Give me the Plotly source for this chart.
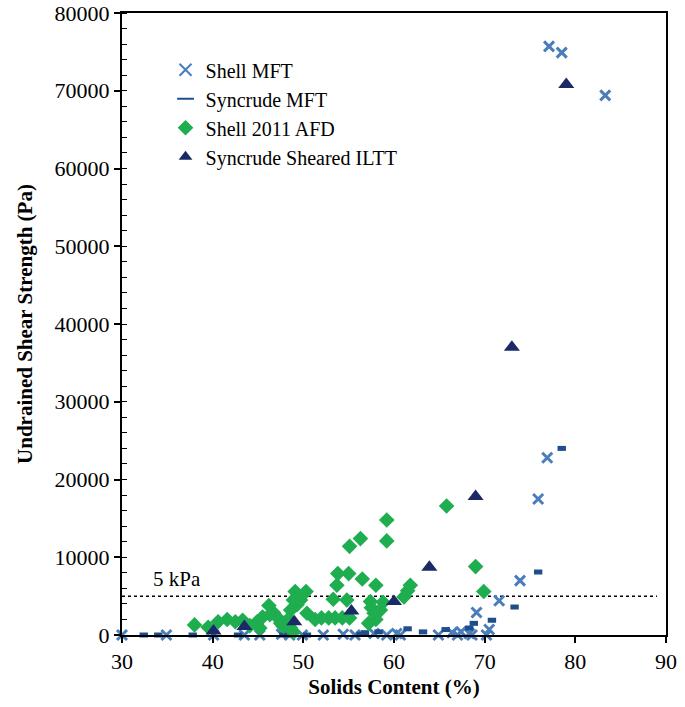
import plotly.graph_objects as go

# Shell MFT
shell_mft_x = [30.0, 34.9, 40.1, 43.5, 45.2, 47.6, 48.5, 49.9, 52.2, 54.4, 55.7, 57.8, 59.2, 60.3, 60.7,
               64.9, 66.4, 67.0, 67.4, 68.3, 68.6, 70.2, 70.5, 69.1, 71.6, 73.9, 75.9, 76.9, 77.1, 78.5, 83.3]
shell_mft_y = [0, 0, 0, 0, 0, 100, 0, 0, 0, 100, 0, 200, 0, 200, 0,
               0, 300, 0, 400, 200, 0, 0, 700, 2900, 4400, 7000, 17500, 22800, 75700, 74900, 69400]

# Syncrude MFT
syn_mft_x = [32.4, 34.0, 37.8, 42.8, 47.8, 48.8, 50.4, 56.3, 56.8, 58.3, 61.5, 63.2, 65.7, 68.3, 68.8,
             70.8, 73.3, 75.9, 78.5]
syn_mft_y = [0, 0, 0, 0, 0, 0, 0, 100, 300, 400, 800, 400, 700, 900, 1500,
             1900, 3600, 8100, 24000]

# Shell 2011 AFD
afd_x = [38.0, 39.5, 40.6, 41.6, 42.5, 43.3, 44.1, 44.9, 45.2, 45.5, 46.2, 46.3, 46.7, 47.1, 47.5,
         47.8, 48.4, 48.6, 48.6, 48.9, 48.9, 49.1, 49.3, 49.7, 50.3, 50.4, 51.3, 52.0, 52.8, 53.3,
         53.5, 53.7, 53.8, 54.3, 54.8, 55.0, 55.1, 55.1, 56.3, 56.5, 57.4, 57.5, 57.8, 58.0, 58.0,
         57.2, 58.5, 58.8, 59.2, 59.2, 61.1, 61.5, 61.8, 65.8, 69.0, 69.9]
afd_y = [1300, 1000, 1700, 2000, 1700, 1900, 1200, 1700, 900, 2300, 3800, 2600, 2900, 2300, 1500,
         1100, 2100, 3200, 900, 4500, 400, 5600, 3900, 4500, 5600, 2800, 2000, 2200, 2200, 4600,
         2200, 6400, 7900, 2200, 4500, 7900, 11400, 2200, 12400, 7200, 4300, 3500, 2800, 6400, 2000,
         1500, 3200, 4200, 14800, 12100, 4900, 5700, 6400, 16600, 8800, 5600]

# Syncrude Sheared ILTT
iltt_x = [40.1, 43.5, 49.0, 55.3, 60.0, 63.9, 69.0, 73.0, 79.0]
iltt_y = [500, 1100, 1700, 3100, 4300, 8700, 17800, 37000, 70800]

x_ticks = [30, 40, 50, 60, 70, 80, 90]
y_ticks = [0, 10000, 20000, 30000, 40000, 50000, 60000, 70000, 80000]

threshold = 5000
threshold_label = "5 kPa"

FONT = "Liberation Serif"

fig = go.Figure()
fig.add_trace(go.Scatter(x=shell_mft_x, y=shell_mft_y, mode="markers", name="Shell MFT",
                         marker=dict(symbol="x-thin", size=10, line=dict(color="#4a7ebb", width=3),
                                     color="#4a7ebb"), cliponaxis=False))
fig.add_trace(go.Scatter(x=syn_mft_x, y=syn_mft_y, mode="markers", name="Syncrude MFT",
                         marker=dict(symbol="line-ew", size=6, line=dict(color="#1f4e8c", width=5),
                                     color="#1f4e8c"), cliponaxis=False))
fig.add_trace(go.Scatter(x=afd_x, y=afd_y, mode="markers", name="Shell 2011 AFD",
                         marker=dict(symbol="diamond", size=12, color="#1fae4f"), cliponaxis=False))
fig.add_trace(go.Scatter(x=iltt_x, y=iltt_y, mode="markers", name="Syncrude Sheared ILTT",
                         marker=dict(symbol="triangle-up", size=14, color="#1b2a66"), cliponaxis=False))

fig.add_shape(type="line", x0=30, x1=89, y0=threshold, y1=threshold, xref="x", yref="y",
              line=dict(color="black", width=1.5, dash="dot"), layer="below")
fig.add_annotation(x=33.2, y=threshold, xref="x", yref="y", text=threshold_label, showarrow=False,
                   xanchor="left", yanchor="bottom", yshift=3, font=dict(family=FONT, size=21, color="black"))

fig.update_layout(
    width=685, height=707,
    margin=dict(l=122, r=19, t=13, b=72, autoexpand=False),
    paper_bgcolor="white", plot_bgcolor="white",
    font=dict(family=FONT, size=22, color="black"),
    showlegend=True,
    legend=dict(x=0.08, y=0.94, xanchor="left", yanchor="top", bgcolor="rgba(0,0,0,0)",
                font=dict(family=FONT, size=20, color="black"), itemsizing="constant",
                tracegroupgap=0),
    xaxis=dict(range=[30, 90], tickmode="array", tickvals=x_ticks, ticktext=[str(v) for v in x_ticks],
               automargin=False, tickfont=dict(family=FONT, size=22),
               showgrid=False, zeroline=False, showline=True, linecolor="black", linewidth=2,
               mirror=True, ticks="outside", ticklen=6, tickwidth=2, tickcolor="black",
               title=dict(text="<b>Solids Content (%)</b>", font=dict(family=FONT, size=21), standoff=6)),
    yaxis=dict(range=[0, 80000], tickmode="array", tickvals=y_ticks, ticktext=[str(v) for v in y_ticks],
               automargin=False, tickfont=dict(family=FONT, size=22),
               showgrid=False, zeroline=False, showline=True, linecolor="black", linewidth=2,
               mirror=True, ticks="outside", ticklen=6, tickwidth=2, tickcolor="black",
               minor=dict(dtick=2000, ticks="inside", ticklen=5, tickwidth=1, tickcolor="black"),
               title=dict(text="<b>Undrained Shear Strength (Pa)</b>", font=dict(family=FONT, size=21), standoff=16)),
)

fig.write_html("out.html")
